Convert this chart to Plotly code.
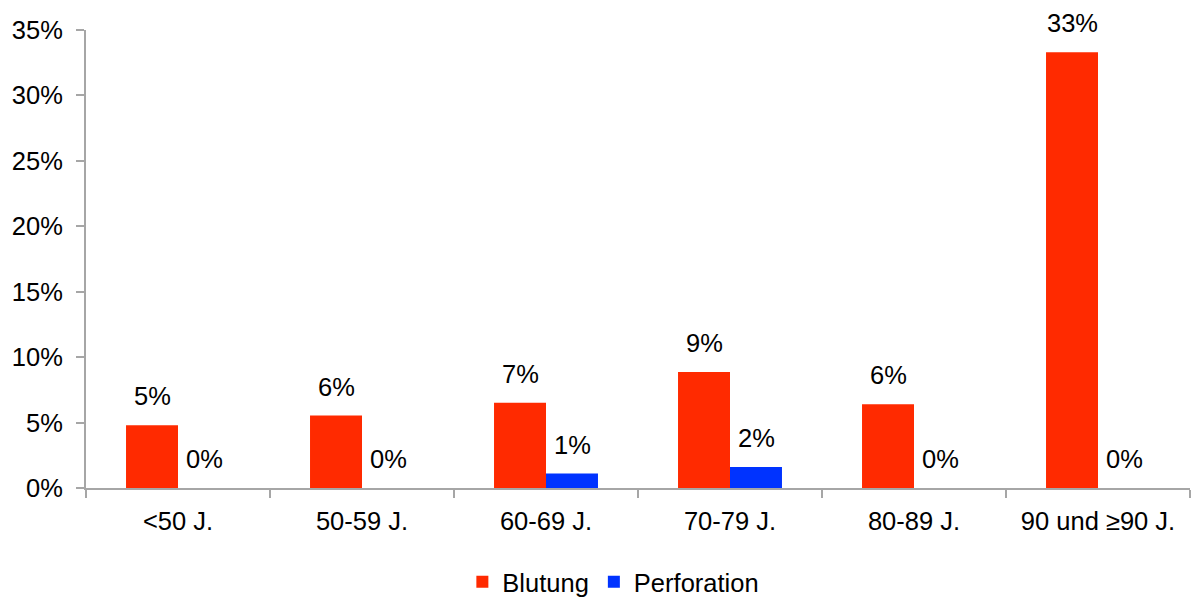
import plotly.graph_objects as go

# Age groups and complication rates
categories = ["<50 J.", "50-59 J.", "60-69 J.", "70-79 J.", "80-89 J.", "90 und ≥90 J."]
blutung = [0.048, 0.0554, 0.0651, 0.0886, 0.064, 0.333]
perforation = [0.0, 0.0, 0.011, 0.016, 0.0, 0.0]
y_ticks = [0, 0.05, 0.10, 0.15, 0.20, 0.25, 0.30, 0.35]

RED = "#FF2A00"
BLUE = "#0033FF"
AXIS = "#A6A6A6"
FONT = "Liberation Sans, Arial, sans-serif"
FS = 25.5

fig = go.Figure()
fig.add_trace(go.Bar(name="Blutung", x=categories, y=blutung, marker=dict(color=RED, line=dict(width=0))))
fig.add_trace(go.Bar(name="Perforation", x=categories, y=perforation, marker=dict(color=BLUE, line=dict(width=0))))

# Value labels above each bar, offset to the bar's side of the group
for series, shift in ((blutung, -26), (perforation, 26)):
    for cat, v in zip(categories, series):
        fig.add_annotation(x=cat, y=v, xref="x", yref="y", text=f"{v:.0%}",
                           showarrow=False, xshift=shift, yshift=29,
                           font=dict(family=FONT, size=FS, color="black"))

fig.update_layout(
    width=1191, height=597,
    margin=dict(l=86, r=1, t=30, b=109),
    paper_bgcolor="white", plot_bgcolor="white",
    barmode="group", bargap=0.435, bargroupgap=0,
    font=dict(family=FONT, size=FS, color="black"),
    showlegend=True,
    legend=dict(orientation="h", xref="container", yref="container",
                x=0.515, xanchor="center", y=0.025, yanchor="middle",
                font=dict(family=FONT, size=FS, color="black"), itemwidth=30,
                traceorder="normal"),
)
fig.update_xaxes(type="category", showline=True, linecolor=AXIS, linewidth=2,
                 ticks="outside", tickson="boundaries", ticklen=8, tickcolor=AXIS, tickwidth=2,
                 showgrid=False, ticklabelstandoff=9, tickfont=dict(family=FONT, size=FS, color="black"))
fig.update_yaxes(range=[0, 0.35], tickvals=y_ticks, tickformat=".0%", showline=True,
                 linecolor=AXIS, linewidth=2, ticks="outside", ticklen=8, tickcolor=AXIS, tickwidth=2,
                 showgrid=False, zeroline=False, ticklabelstandoff=8,
                 tickfont=dict(family=FONT, size=FS, color="black"))

fig.write_html("out.html")
